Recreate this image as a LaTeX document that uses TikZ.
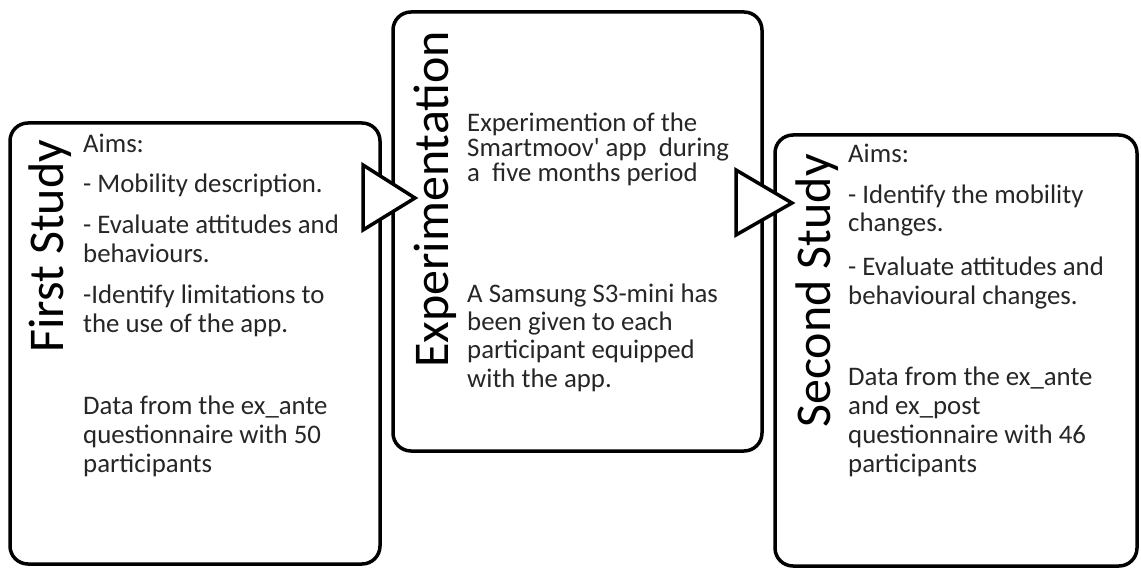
\documentclass[tikz,border=0pt]{standalone}
\usepackage{fontspec}
\setmainfont{Carlito}
\usetikzlibrary{positioning}
\tikzset{
      stage box/.style={
		draw=black,
		line width=3.5pt,
		rounded corners=18pt,
		inner sep=0pt,
	  },
      flow arrow/.style={
		draw=black,
		fill=white,
		line width=3.5pt,
	  },
      stage title/.style={
		rotate=90, % title reads bottom to top
		anchor=base west,
		inner sep=0pt,
		font=\fontsize{50}{58}\selectfont,
	  },
      stage text/.style={
		anchor=base west, % base of the last line
		inner sep=0pt,
		align=left,
		text=black!85,
		font=\fontsize{26.8}{28.7}\selectfont,
	  },
  	}

\begin{document}
\begin{tikzpicture}[x=1pt, y=-1pt]
    \useasboundingbox (0,0) rectangle (1141,572);
    \node [stage box, minimum width=370pt, minimum height=441pt] (first) at (195,343.5) {};
    \node [stage box, minimum width=369pt, minimum height=439pt] (exper) at (577.5,231.5) {};
    \node [stage box, minimum width=362pt, minimum height=431pt] (second) at (956,350.5) {};
    \draw [flow arrow] (363,165) -- (415,198) -- (363,230) -- cycle;
    \draw [flow arrow] (736,170) -- (792,203) -- (736,235) -- cycle;
    \node [stage title] (first title) at (63,353) {First Study};
    \node [stage title] (exper title) at (448,368) {Experimentation};
    \node [stage title] (second title) at (830,428) {Second Study};
    \node [stage text] (first aims) at (83,153) {Aims:};
    \node [stage text] (first a) at (83,193) {- Mobility description.};
    \node [stage text] (first b) at (83,262) {- Evaluate attitudes and\\behaviours.};
    \node [stage text] (first c) at (83,332) {-Identify limitations to\\the use of the app.};
    \node [stage text] (first data) at (83,472) {Data from the ex\_ante\\questionnaire with 50\\participants};
    \node [stage text, font=\fontsize{26.8}{25}\selectfont] (exper a) at (467,182) {Experimention of the\\Smartmoov\textquotesingle{} app\ \ during\\a\ \ five months period};
    \node [stage text, font=\fontsize{26.8}{28.3}\selectfont] (exper b) at (467,387) {A Samsung S3-mini has\\been given to each\\participant equipped\\with the app.};
    \node [stage text] (second aims) at (848,163) {Aims:};
    \node [stage text] (second a) at (848,232) {- Identify the mobility\\changes.};
    \node [stage text] (second b) at (848,304) {- Evaluate attitudes and\\behavioural changes.};
    \node [stage text] (second data) at (848,472) {Data from the ex\_ante\\and ex\_post\\questionnaire with 46\\participants};
  \end{tikzpicture}
\end{document}
